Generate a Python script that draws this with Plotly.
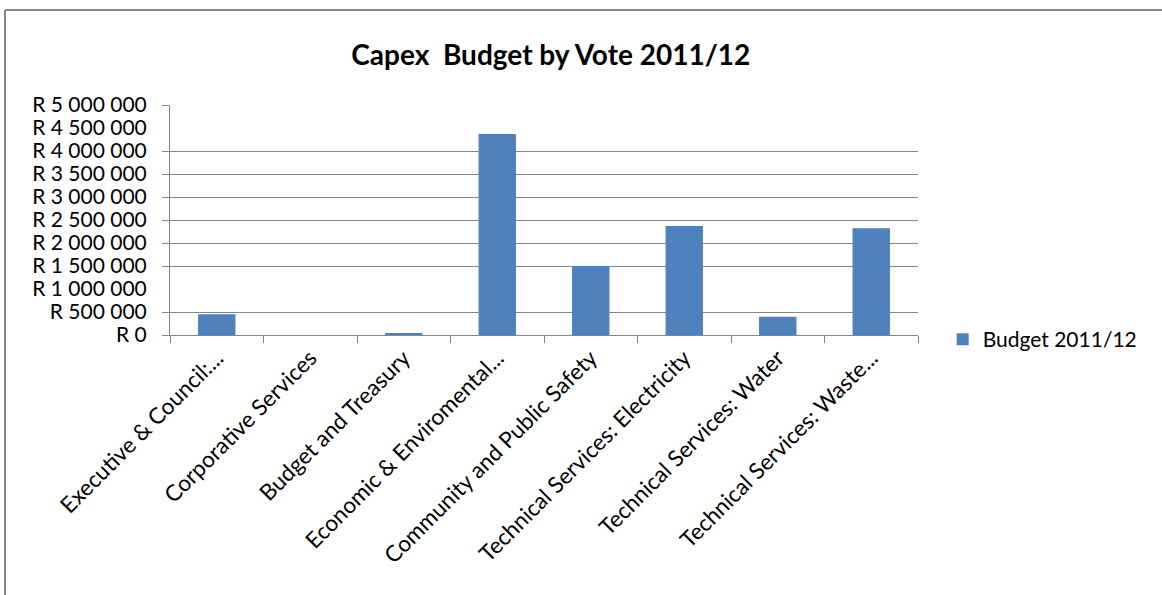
import plotly.graph_objects as go

# Capital budget per vote, 2011/12 (Rand)
categories = [
    "Executive & Council:...",
    "Corporative Services",
    "Budget and Treasury",
    "Economic & Enviromental...",
    "Community and Public Safety",
    "Technical Services: Electricity",
    "Technical Services: Water",
    "Technical Services: Waste...",
]
budget_2011_12 = [450000, 0, 40000, 4370000, 1500000, 2370000, 395000, 2320000]

# Axis ticks
tick_values = [0, 500000, 1000000, 1500000, 2000000, 2500000,
               3000000, 3500000, 4000000, 4500000, 5000000]
tick_labels = ["R 0", "R 500 000", "R 1 000 000", "R 1 500 000", "R 2 000 000",
               "R 2 500 000", "R 3 000 000", "R 3 500 000", "R 4 000 000",
               "R 4 500 000", "R 5 000 000"]
# Horizontal rules drawn across the plot
grid_values = [0, 500000, 1500000, 2000000, 2500000,
               3000000, 3500000, 4000000, 5000000]

FONT = "Lato"
GRID = "#868686"
BAR = "#4F81BD"

fig = go.Figure()
fig.add_trace(go.Bar(
    x=categories,
    y=budget_2011_12,
    name="Budget 2011/12",
    marker=dict(color=BAR, line=dict(width=0)),
    showlegend=True,
))
# invisible companion trace bound to the grid axis
fig.add_trace(go.Scatter(x=[categories[0]], y=[0], yaxis="y2",
                         mode="markers", marker=dict(opacity=0),
                         showlegend=False, hoverinfo="skip"))

fig.update_layout(
    width=1162,
    height=595,
    margin=dict(l=170, r=244, t=105, b=260),
    paper_bgcolor="white",
    plot_bgcolor="white",
    bargap=0.6,
    title=dict(
        text="<b>Capex  Budget by Vote 2011/12</b>",
        x=0.474, xref="container", xanchor="center",
        y=0.908, yref="container", yanchor="middle",
        font=dict(family=FONT, size=28, color="#000000"),
    ),
    xaxis=dict(
        type="category",
        showline=True, linecolor=GRID, linewidth=1,
        ticks="outside", tickson="boundaries", ticklen=7,
        tickcolor=GRID, tickwidth=1,
        tickangle=-45,
        tickfont=dict(family=FONT, size=22.5, color="#000000"),
        showgrid=False,
    ),
    yaxis=dict(
        range=[0, 5000000],
        tickvals=tick_values, ticktext=tick_labels,
        ticks="", showgrid=False, zeroline=False,
        showline=True, linecolor=GRID, linewidth=1,
        ticklabelstandoff=18,
        tickfont=dict(family=FONT, size=21, color="#000000"),
    ),
    yaxis2=dict(
        range=[0, 5000000], overlaying="y", side="left",
        tickvals=grid_values, showticklabels=False,
        ticks="outside", ticklen=7, tickcolor=GRID, tickwidth=1,
        showgrid=True, gridcolor=GRID, gridwidth=1,
        zeroline=False, showline=False,
    ),
    legend=dict(
        x=1.033, xanchor="left", y=-0.02, yanchor="middle",
        font=dict(family=FONT, size=21, color="#000000"),
        bgcolor="rgba(0,0,0,0)",
    ),
    shapes=[
        # outer chart frame (left and top edges)
        dict(type="line", xref="paper", yref="paper",
             x0=-0.2206, x1=-0.2206, y0=-2, y1=1.413,
             line=dict(color="#878787", width=2)),
        dict(type="line", xref="paper", yref="paper",
             x0=-0.2206, x1=2, y0=1.413, y1=1.413,
             line=dict(color="#878787", width=2)),
    ],
)

fig.write_html("out.html")
